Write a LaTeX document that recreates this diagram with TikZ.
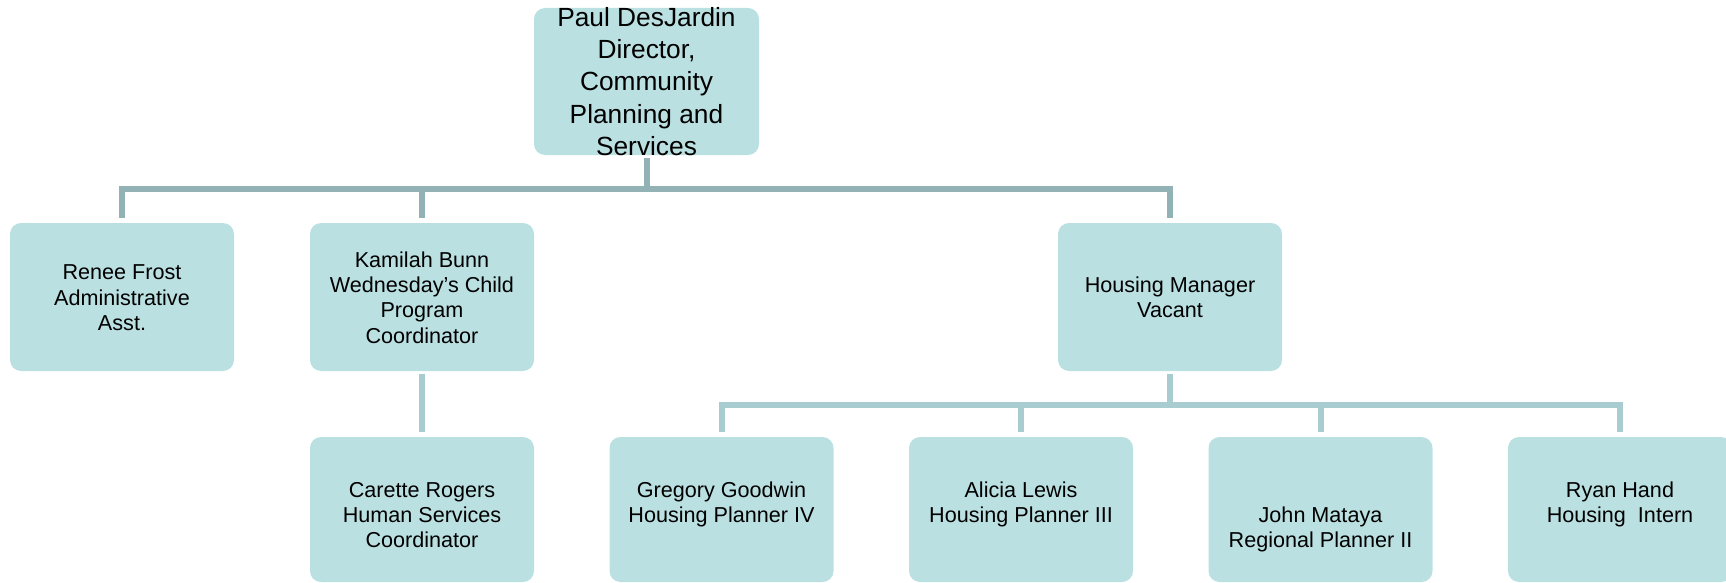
\documentclass[tikz,border=0pt]{standalone}
\usepackage{fontspec}
\setmainfont{Liberation Sans}
\definecolor{boxfill}{HTML}{BAE0E2}
\definecolor{busdark}{HTML}{93B2B5}
\definecolor{buslight}{HTML}{A9CCD0}
\tikzset{
  orgbox/.style={fill=boxfill, draw=none, rounded corners=11pt, minimum width=224pt, minimum height=148pt, inner sep=0pt, outer sep=0pt},
  lowbox/.style={orgbox, minimum height=145pt},
  topbox/.style={orgbox, minimum width=225pt, minimum height=147pt},
  txt/.style={align=center, inner sep=0pt, font=\fontsize{21.6pt}{25.3pt}\selectfont},
  toptxt/.style={align=center, inner sep=0pt, font=\fontsize{26.3pt}{32.2pt}\selectfont},
  busmain/.style={draw=busdark, line width=6pt},
  buslow/.style={draw=buslight, line width=6pt}
}
\begin{document}
\begin{tikzpicture}[x=1pt,y=-1pt]
\useasboundingbox (0,0) rectangle (1726,583);
\clip (0,0) rectangle (1726,583);
% boxes
\node[topbox] (paul) at (646.5,81.5) {};
\node[orgbox] (renee) at (122,297) {};
\node[orgbox] (kam) at (422,297) {};
\node[orgbox] (hm) at (1170,297) {};
\node[lowbox] (car) at (422,509.5) {};
\node[lowbox] (greg) at (721.5,509.5) {};
\node[lowbox] (ali) at (1021,509.5) {};
\node[lowbox] (john) at (1320.5,509.5) {};
\node[lowbox] (ryan) at (1620,509.5) {};
% texts
\node[toptxt] (tpaul) at (paul.center) {Paul DesJardin\\Director,\\Community\\Planning and\\Services};
\node[txt] (trenee) at ([yshift=-3pt]renee.center) {\strut Renee Frost\\\strut Administrative\\\strut Asst.};
\node[txt] (tkam) at ([yshift=-3pt]kam.center) {\strut Kamilah Bunn\\\strut Wednesday’s Child\\\strut Program\\\strut Coordinator};
\node[txt] (thm) at ([yshift=-3pt]hm.center) {\strut Housing Manager\\\strut Vacant};
\node[txt] (tcar) at ([yshift=-8pt]car.center) {\strut Carette Rogers\\\strut Human Services\\\strut Coordinator};
\node[txt] (tgreg) at ([yshift=-8pt]greg.center) {\strut Gregory Goodwin\\\strut Housing Planner IV\\\strut};
\node[txt] (tali) at ([yshift=-8pt]ali.center) {\strut Alicia Lewis\\\strut Housing Planner III\\\strut};
\node[txt] (tjohn) at ([yshift=-8pt]john.center) {\strut\\\strut John Mataya\\\strut Regional Planner II};
\node[txt] (tryan) at ([yshift=-8pt]ryan.center) {\strut Ryan Hand\\\strut Housing\ \ Intern\\\strut};
% bus levels
\coordinate (busA) at (0,189);
\coordinate (busB) at (0,405);
% main connectors
\draw[busmain] ([yshift=-3pt]paul.south) -- (paul.south |- busA);
\draw[busmain] ([yshift=5pt]renee.north) |- (hm.north |- busA) -- ([yshift=5pt]hm.north);
\draw[busmain] ([yshift=5pt]kam.north) -- (kam.north |- busA);
% Kamilah to Carette
\draw[buslow] ([yshift=-3pt]kam.south) -- ([yshift=5pt]car.north);
% housing connectors
\draw[buslow] ([yshift=-3pt]hm.south) -- (hm.south |- busB);
\draw[buslow] ([yshift=5pt]greg.north) |- (ryan.north |- busB) -- ([yshift=5pt]ryan.north);
\draw[buslow] ([yshift=5pt]ali.north) -- (ali.north |- busB);
\draw[buslow] ([yshift=5pt]john.north) -- (john.north |- busB);
\end{tikzpicture}
\end{document}
